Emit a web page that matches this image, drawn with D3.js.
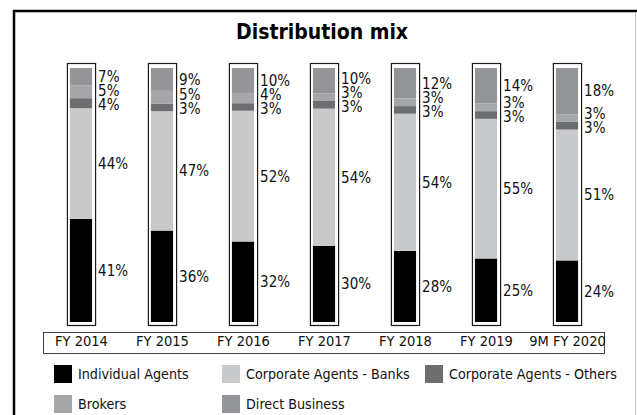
<!DOCTYPE html>
<html>
<head>
<meta charset="utf-8">
<script src="https://cdn.jsdelivr.net/npm/d3@7"></script>
<style>
  body { margin: 0; background: #fff; }
  svg { display: block; font-family: "DejaVu Sans Condensed", "DejaVu Sans", sans-serif; }
</style>
</head>
<body>
<svg id="chart"></svg>
<script>
// Data (shares in %)
const years = ['FY 2014', 'FY 2015', 'FY 2016', 'FY 2017', 'FY 2018', 'FY 2019', '9M FY 2020'];
const individualAgents = [41, 36, 32, 30, 28, 25, 24];
const corporateBanks = [44, 47, 52, 54, 54, 55, 51];
const corporateOthers = [4, 3, 3, 3, 3, 3, 3];
const brokers = [5, 5, 4, 3, 3, 3, 3];
const directBusiness = [7, 9, 10, 10, 12, 14, 18];

const seriesNames = ['Individual Agents', 'Corporate Agents - Banks', 'Corporate Agents - Others', 'Brokers', 'Direct Business'];
const seriesValues = [individualAgents, corporateBanks, corporateOthers, brokers, directBusiness];
const seriesColors = ['#000000', '#c8c9cb', '#6d6e71', '#a5a6a9', '#939598'];

const width = 637;
const height = 415;

const rows = years.map((y, i) => {
  const row = { year: y };
  seriesNames.forEach((s, j) => { row[s] = seriesValues[j][i]; });
  return row;
});

const svg = d3.select('#chart')
  .attr('width', width)
  .attr('height', height);

// outer frame: heavy top/left, faint right
svg.append('line')
  .attr('x1', 13).attr('x2', width).attr('y1', 11).attr('y2', 11)
  .attr('stroke', '#000').attr('stroke-width', 2.5);
svg.append('line')
  .attr('x1', 14).attr('x2', 14).attr('y1', 10).attr('y2', height)
  .attr('stroke', '#000').attr('stroke-width', 2.5);
svg.append('line')
  .attr('x1', 635.5).attr('x2', 635.5).attr('y1', 12).attr('y2', height)
  .attr('stroke', '#c4c4c4').attr('stroke-width', 1);

svg.append('text')
  .attr('x', 322)
  .attr('y', 39)
  .attr('text-anchor', 'middle')
  .style('font-weight', 'bold')
  .style('font-size', '21px')
  .text('Distribution mix');

const xScale = d3.scaleBand()
  .domain(years)
  .range([41, 608])
  .paddingInner(0.64)
  .paddingOuter(0.32);

const yScale = d3.scaleLinear()
  .domain([0, 1])
  .range([322, 68]);

const stacked = d3.stack()
  .keys(seriesNames)
  .offset(d3.stackOffsetExpand)(rows);

// bar frames
svg.append('g').selectAll('rect')
  .data(years)
  .join('rect')
  .attr('x', (d) => xScale(d) + 0.5)
  .attr('y', yScale(1) - 4.5)
  .attr('width', xScale.bandwidth() - 1)
  .attr('height', yScale(0) - yScale(1) + 8)
  .attr('fill', 'none')
  .attr('stroke', '#1a1a1a')
  .attr('stroke-width', 1.2);

const layers = svg.append('g').selectAll('g')
  .data(stacked)
  .join('g')
  .attr('fill', (d, i) => seriesColors[i]);

layers.selectAll('rect')
  .data((d) => d)
  .join('rect')
  .attr('x', (d) => xScale(d.data.year) + 3)
  .attr('y', (d) => yScale(d[1]))
  .attr('width', xScale.bandwidth() - 7)
  .attr('height', (d) => yScale(d[0]) - yScale(d[1]));

// value labels, small top segments pushed apart
const gap = 14;
const labels = [];
years.forEach((year, i) => {
  const mids = stacked.map((s) => (yScale(s[i][0]) + yScale(s[i][1])) / 2);
  const pos = mids.slice();
  pos[2] = mids[2] + 1.5;
  for (let j = 3; j < pos.length; j += 1) {
    pos[j] = Math.min(mids[j], pos[j - 1] - gap);
  }
  seriesNames.forEach((s, j) => {
    labels.push({ year, y: pos[j], text: `${seriesValues[j][i]}%` });
  });
});

svg.append('g').selectAll('text')
  .data(labels)
  .join('text')
  .attr('x', (d) => xScale(d.year) + xScale.bandwidth() + 2)
  .attr('y', (d) => d.y)
  .attr('dy', '0.36em')
  .style('font-size', '15px')
  .attr('fill', '#111')
  .text((d) => d.text);

// category axis inside a box
svg.append('rect')
  .attr('x', 43.5).attr('y', 332.5)
  .attr('width', 561).attr('height', 21)
  .attr('fill', 'none')
  .attr('stroke', '#444')
  .attr('stroke-width', 1);

const xAxis = d3.axisBottom(xScale).tickSize(0).tickPadding(0);
const xAxisG = svg.append('g')
  .attr('transform', 'translate(0,336)')
  .call(xAxis);
xAxisG.select('.domain').remove();
xAxisG.selectAll('text')
  .style('font-size', '14.5px')
  .style('font-family', '"DejaVu Sans Condensed", sans-serif')
  .attr('fill', '#111');

// legend
const legendPos = [[54, 365], [222, 365], [425, 365], [54, 395], [222, 395]];
const legend = svg.append('g').selectAll('g')
  .data(seriesNames)
  .join('g')
  .attr('transform', (d, i) => `translate(${legendPos[i][0]},${legendPos[i][1]})`);

legend.append('rect')
  .attr('width', 18)
  .attr('height', 18)
  .attr('fill', (d, i) => seriesColors[i]);

legend.append('text')
  .attr('x', 24)
  .attr('y', 9)
  .attr('dy', '0.36em')
  .style('font-size', '14.2px')
  .attr('fill', '#111')
  .text((d) => d);
</script>
</body>
</html>
